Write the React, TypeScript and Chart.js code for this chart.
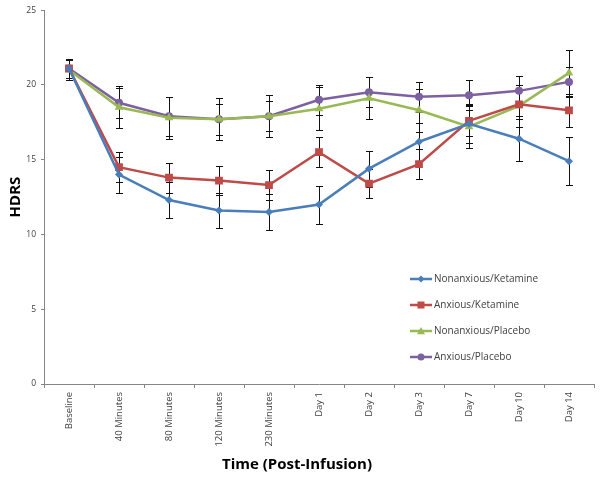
import React, { useEffect, useRef } from 'react';
import { Chart, registerables } from 'chart.js';

Chart.register(...registerables);

const categories = ['Baseline', '40 Minutes', '80 Minutes', '120 Minutes', '230 Minutes', 'Day 1', 'Day 2', 'Day 3', 'Day 7', 'Day 10', 'Day 14'];

const nonanxiousKetamine = [21.1, 14.0, 12.3, 11.6, 11.5, 12.0, 14.4, 16.2, 17.4, 16.4, 14.9];
const anxiousKetamine = [21.1, 14.5, 13.8, 13.6, 13.3, 15.5, 13.4, 14.7, 17.6, 18.7, 18.3];
const nonanxiousPlacebo = [21.0, 18.5, 17.8, 17.7, 17.9, 18.4, 19.1, 18.3, 17.2, 18.6, 20.8];
const anxiousPlacebo = [21.1, 18.8, 17.9, 17.7, 17.9, 19.0, 19.5, 19.2, 19.3, 19.6, 20.2];

const nonanxiousKetamineErr = [0.65, 1.2, 1.2, 1.15, 1.2, 1.27, 1.2, 1.27, 1.3, 1.5, 1.6];
const anxiousKetamineErr = [0.65, 1.0, 1.0, 0.95, 1.0, 1.0, 0.95, 1.0, 1.0, 1.0, 1.1];
const nonanxiousPlaceboErr = [0.65, 1.4, 1.4, 1.4, 1.0, 1.45, 1.4, 1.45, 1.45, 1.4, 1.55];
const anxiousPlaceboErr = [0.65, 1.0, 1.3, 1.05, 1.4, 1.0, 1.0, 1.0, 1.0, 1.0, 1.0];

const seriesNames = ['Nonanxious/Ketamine', 'Anxious/Ketamine', 'Nonanxious/Placebo', 'Anxious/Placebo'];
const yTicks = [0, 5, 10, 15, 20, 25];

const FONT = '"Open Sans", Lato, sans-serif';

function drawMarker(ctx: CanvasRenderingContext2D, shape: string, x: number, y: number, r: number) {
  ctx.beginPath();
  if (shape === 'rectRot') {
    ctx.moveTo(x, y - r);
    ctx.lineTo(x + r, y);
    ctx.lineTo(x, y + r);
    ctx.lineTo(x - r, y);
    ctx.closePath();
  } else if (shape === 'rect') {
    ctx.rect(x - r, y - r, 2 * r, 2 * r);
  } else if (shape === 'triangle') {
    ctx.moveTo(x, y - r);
    ctx.lineTo(x + r, y + r * 0.8);
    ctx.lineTo(x - r, y + r * 0.8);
    ctx.closePath();
  } else {
    ctx.arc(x, y, r, 0, Math.PI * 2);
  }
  ctx.fill();
}

function legendSymbol(color: string, shape: string, r: number) {
  const c = document.createElement('canvas');
  c.width = 22;
  c.height = 12;
  const ctx = c.getContext('2d') as CanvasRenderingContext2D;
  ctx.strokeStyle = color;
  ctx.lineWidth = 2.5;
  ctx.beginPath();
  ctx.moveTo(0, 6);
  ctx.lineTo(22, 6);
  ctx.stroke();
  ctx.fillStyle = color;
  drawMarker(ctx, shape, 11, 6, r);
  return c;
}

const errorBarPlugin = {
  id: 'errorBars',
  beforeDatasetsDraw(chart: any) {
    const ctx = chart.ctx;
    const yScale = chart.scales.y;
    ctx.save();
    ctx.strokeStyle = '#111';
    ctx.lineWidth = 1;
    chart.data.datasets.forEach((ds: any, i: number) => {
      const meta = chart.getDatasetMeta(i);
      meta.data.forEach((pt: any, j: number) => {
        const v = ds.data[j];
        const e = ds.errors[j];
        const x = Math.round(pt.x) + 0.5;
        const yt = Math.round(yScale.getPixelForValue(v + e)) + 0.5;
        const yb = Math.round(yScale.getPixelForValue(v - e)) + 0.5;
        ctx.beginPath();
        ctx.moveTo(x, yt);
        ctx.lineTo(x, yb);
        ctx.moveTo(x - 3.5, yt);
        ctx.lineTo(x + 3.5, yt);
        ctx.moveTo(x - 3.5, yb);
        ctx.lineTo(x + 3.5, yb);
        ctx.stroke();
      });
    });
    ctx.restore();
  },
};

const legendPlacePlugin = {
  id: 'legendPlace',
  afterLayout(chart: any) {
    const lg = chart.legend;
    if (!lg) return;
    lg.left = 397;
    lg.top = 258;
    lg.bottom = 470;
  },
};

export default function App() {
  const ref = useRef<HTMLCanvasElement | null>(null);

  useEffect(() => {
    document.body.style.margin = '0';
    const canvas = ref.current;
    if (!canvas) return;

    const specs = [
      { name: seriesNames[0], data: nonanxiousKetamine, errors: nonanxiousKetamineErr, color: '#4A7EBB', shape: 'rectRot', r: 4, lr: 3.5 },
      { name: seriesNames[1], data: anxiousKetamine, errors: anxiousKetamineErr, color: '#BE4B48', shape: 'rect', r: 5.5, lr: 3.5 },
      { name: seriesNames[2], data: nonanxiousPlacebo, errors: nonanxiousPlaceboErr, color: '#98B954', shape: 'triangle', r: 5, lr: 4 },
      { name: seriesNames[3], data: anxiousPlacebo, errors: anxiousPlaceboErr, color: '#7D60A0', shape: 'circle', r: 4, lr: 3.5 },
    ];

    const chart = new Chart(canvas, {
      type: 'line',
      data: {
        labels: categories,
        datasets: specs.map((s) => ({
          label: s.name,
          data: s.data,
          errors: s.errors,
          borderColor: s.color,
          backgroundColor: s.color,
          borderWidth: 2.5,
          pointStyle: s.shape,
          pointRadius: s.r,
          pointBorderWidth: 0,
          pointBackgroundColor: s.color,
          tension: 0,
          legendSymbol: legendSymbol(s.color, s.shape, s.lr),
        })) as any,
      },
      options: {
        animation: false,
        responsive: false,
        layout: { padding: { left: 0, right: 6, top: 9, bottom: 0 } },
        plugins: {
          tooltip: { enabled: false },
          title: {
            display: true,
            text: 'Time (Post-Infusion)',
            position: 'bottom',
            color: '#000',
            font: { family: FONT, size: 15, weight: 'bold', lineHeight: 1.2 },
            padding: { top: 0, bottom: 6 },
          },
          legend: {
            display: true,
            position: 'chartArea',
            align: 'start',
            labels: {
              usePointStyle: true,
              pointStyleWidth: 16,
              boxHeight: 11,
              padding: 16,
              color: '#404040',
              font: { family: FONT, size: 10 },
              generateLabels: (ch: any) =>
                ch.data.datasets.map((ds: any, i: number) => ({
                  text: ds.label,
                  pointStyle: ds.legendSymbol,
                  fillStyle: ds.borderColor,
                  strokeStyle: ds.borderColor,
                  lineWidth: 0,
                  fontColor: '#404040',
                  hidden: false,
                  datasetIndex: i,
                })),
            },
          },
        },
        scales: {
          x: {
            type: 'category',
            offset: true,
            grid: { display: true, offset: true, drawOnChartArea: false, tickLength: 4, color: '#868686' },
            border: { display: true, color: '#868686', width: 1 },
            ticks: {
              autoSkip: false,
              maxRotation: 90,
              minRotation: 90,
              padding: 4,
              color: '#404040',
              font: { family: FONT, size: 9.5 },
            },
            afterFit: (scale: any) => {
              scale.height = 72;
            },
          },
          y: {
            min: 0,
            max: 25,
            afterBuildTicks: (scale: any) => {
              scale.ticks = yTicks.map((v) => ({ value: v }));
            },
            grid: { display: true, drawOnChartArea: false, tickLength: 3, color: '#868686' },
            border: { display: true, color: '#868686', width: 1 },
            ticks: {
              padding: 5,
              color: '#404040',
              font: { family: FONT, size: 8.5 },
            },
            title: {
              display: true,
              text: 'HDRS',
              color: '#000',
              font: { family: FONT, size: 15, weight: 'bold', lineHeight: 1.2 },
              padding: { top: 7, bottom: 0 },
            },
            afterFit: (scale: any) => {
              scale.width = 44;
            },
          },
        },
      } as any,
      plugins: [errorBarPlugin, legendPlacePlugin],
    });

    return () => chart.destroy();
  }, []);

  return (
    <div style={{ width: 600, height: 480 }}>
      <canvas ref={ref} width={600} height={480} style={{ display: 'block' }} />
    </div>
  );
}
